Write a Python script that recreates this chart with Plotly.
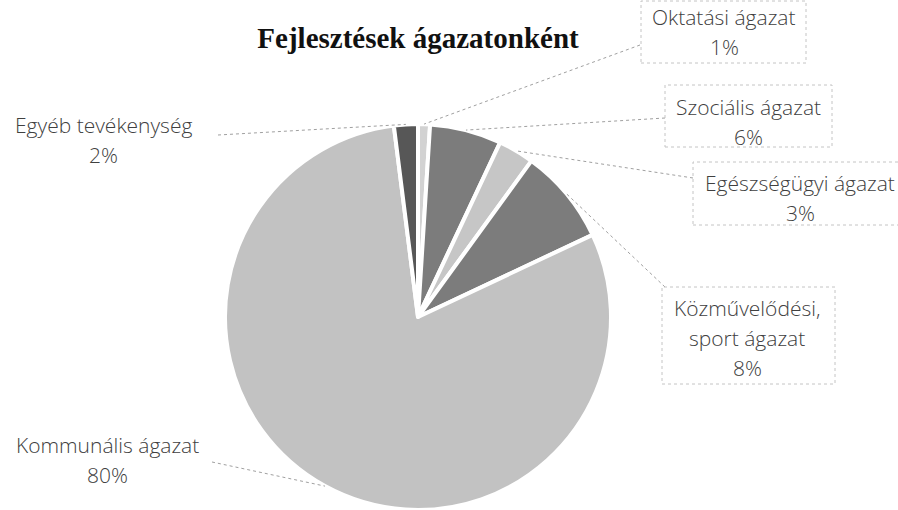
import math
import plotly.graph_objects as go

# Sector shares (percent), in drawing order clockwise from 12 o'clock
sectors = ["Oktatási ágazat", "Szociális ágazat", "Egészségügyi ágazat",
           "Közművelődési, sport ágazat", "Kommunális ágazat", "Egyéb tevékenység"]
shares = [1, 6, 3, 8, 80, 2]
label_lines = [["Oktatási ágazat"], ["Szociális ágazat"], ["Egészségügyi ágazat"],
               ["Közművelődési,", "sport ágazat"], ["Kommunális ágazat"], ["Egyéb tevékenység"]]
slice_colors = ["#d2d2d2", "#7c7c7c", "#c6c6c6", "#7c7c7c", "#c2c2c2", "#575757"]

W, H = 898, 510
CX, CY, R = 418, 317, 193          # pie centre and radius (px)

# label anchor: centre x, first-line centre y (px)
label_pos = [(724, 17), (748, 107), (800, 183), (747, 308), (107, 445), (103, 125)]
# where each leader line leaves its label (px)
leader_start = [(640, 45), (665, 118), (693, 178), (665, 287), (212, 462), (218, 135)]
# dotted frames round some labels: x0, x1, y0, y1 (px)
frames = [(641, 806, 1, 63), (665, 832, 85, 147), (693, 905, 162, 225), (662, 835, 287, 384)]
LINE_GAP = 30


def px(x):
    return x / W


def py(y):
    return 1 - y / H


fig = go.Figure(go.Pie(
    labels=sectors, values=shares, sort=False, direction="clockwise", rotation=0,
    textinfo="none", hoverinfo="label+percent",
    marker=dict(colors=slice_colors, line=dict(color="white", width=4)),
    domain=dict(x=[px(CX - R), px(CX + R)], y=[py(CY + R), py(CY - R)]),
    showlegend=False,
))

annotations = []
shapes = []
total = sum(shares)
acc = 0
for i, (name, v) in enumerate(zip(sectors, shares)):
    mid = (acc + v / 2) / total * 2 * math.pi
    acc += v
    ex, ey = CX + R * math.sin(mid), CY - R * math.cos(mid)
    sx, sy = leader_start[i]
    shapes.append(dict(type="line", xref="paper", yref="paper",
                       x0=px(sx), y0=py(sy), x1=px(ex), y1=py(ey),
                       line=dict(color="#a0a0a0", width=1, dash="dot")))
    lx, ly = label_pos[i]
    lines = label_lines[i] + [f"{v}%"]
    for k, t in enumerate(lines):
        annotations.append(dict(xref="paper", yref="paper", x=px(lx), y=py(ly + k * LINE_GAP),
                                text=t, showarrow=False, xanchor="center", yanchor="middle",
                                font=dict(family="Open Sans", size=21, color="#404040", weight=300)))

for x0, x1, y0, y1 in frames:
    shapes.append(dict(type="rect", xref="paper", yref="paper",
                       x0=px(x0), x1=px(x1), y0=py(y1), y1=py(y0),
                       line=dict(color="#c4c4c4", width=1, dash="dot")))

fig.update_layout(
    width=W, height=H, margin=dict(l=0, r=0, t=0, b=0),
    paper_bgcolor="white", plot_bgcolor="white",
    title=dict(text="<b>Fejlesztések ágazatonként</b>", x=px(418), y=py(38),
               xanchor="center", yanchor="middle", xref="paper", yref="paper",
               font=dict(family="Liberation Serif", size=29, color="#111111")),
    annotations=annotations, shapes=shapes,
)

fig.write_html("out.html")
